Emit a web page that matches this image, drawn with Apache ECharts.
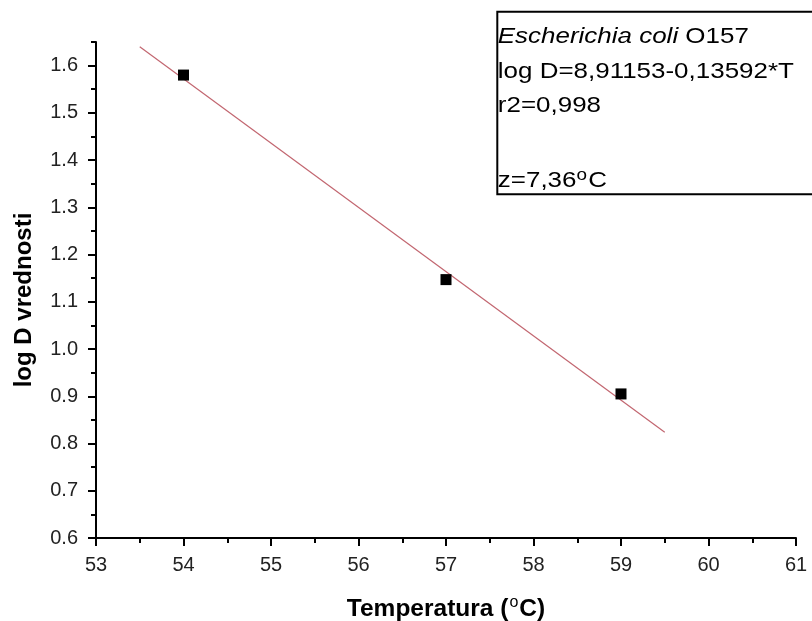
<!DOCTYPE html>
<html>
<head>
<meta charset="utf-8">
<script src="https://cdn.jsdelivr.net/npm/echarts@6/dist/echarts.min.js"></script>
<style>
  html, body { margin: 0; padding: 0; background: #fff; }
  #chart { width: 812px; height: 621px; }
</style>
</head>
<body>
<div id="chart"></div>
<script>
// Measured log D values at each treatment temperature (°C)
const temperatures = [54, 57, 59];
const logD = [1.580, 1.147, 0.905];

// End points of the regression line log D = 8,91153 - 0,13592*T
const fitTemps = [53.5, 59.5];
const fitLogD = [1.640, 0.824];

// Tick positions
const xTicks = [53, 54, 55, 56, 57, 58, 59, 60, 61];
const xMinorTicks = [53.5, 54.5, 55.5, 56.5, 57.5, 58.5, 59.5, 60.5];
const yTicks = [0.6, 0.7, 0.8, 0.9, 1.0, 1.1, 1.2, 1.3, 1.4, 1.5, 1.6];
const yMinorTicks = [0.65, 0.75, 0.85, 0.95, 1.05, 1.15, 1.25, 1.35, 1.45, 1.55, 1.65];

// Annotation box text
const boxTitleItalic = 'Escherichia coli';
const boxTitleRest = ' O157';
const boxEquation = 'log D=8,91153-0,13592*T';
const boxR2 = 'r2=0,998';
const boxZ = 'z=7,36';

const FONT = '"Liberation Sans", Arial, sans-serif';
const AXIS_MIN_X = 53, AXIS_MAX_X = 61, AXIS_MIN_Y = 0.6, AXIS_MAX_Y = 1.65;

const chart = echarts.init(document.getElementById('chart'), null, { renderer: 'canvas' });

const scatterData = temperatures.map((t, i) => [t, logD[i]]);
const fitData = fitTemps.map((t, i) => [t, fitLogD[i]]);

const tickLine = { color: '#000', width: 2 };

const option = {
  animation: false,
  backgroundColor: '#fff',
  grid: {
    left: 96, right: 16, top: 42, bottom: 83,
    containLabel: false, outerBoundsMode: 'none'
  },
  xAxis: [
    {
      type: 'value', min: AXIS_MIN_X, max: AXIS_MAX_X, interval: 1,
      position: 'bottom',
      name: '{b|Temperatura (}{s|o}{b|C)}',
      nameLocation: 'middle', nameGap: 57,
      nameTextStyle: {
        rich: {
          b: { fontFamily: FONT, fontSize: 24.5, fontWeight: 'bold', color: '#000' },
          s: { fontFamily: FONT, fontSize: 16, color: '#000', padding: [0, 1, 12, 1] }
        }
      },
      axisLine: { show: true, onZero: false, lineStyle: tickLine },
      axisTick: { show: true, length: 8, lineStyle: tickLine, customValues: xTicks },
      axisLabel: {
        customValues: xTicks, margin: 17,
        fontFamily: FONT, fontSize: 20, color: '#222',
        formatter: v => String(v)
      },
      splitLine: { show: false }
    },
    {
      type: 'value', min: AXIS_MIN_X, max: AXIS_MAX_X,
      position: 'bottom', offset: 0,
      axisLine: { show: false },
      axisTick: { show: true, length: 5, lineStyle: tickLine, customValues: xMinorTicks },
      axisLabel: { show: false },
      splitLine: { show: false }
    }
  ],
  yAxis: [
    {
      type: 'value', min: AXIS_MIN_Y, max: AXIS_MAX_Y, interval: 0.1,
      position: 'left',
      name: 'log D vrednosti',
      nameLocation: 'middle', nameRotate: 90, nameGap: 60,
      nameTextStyle: {
        fontFamily: FONT, fontSize: 24, fontWeight: 'bold', color: '#000',
        padding: [0, 20, 0, 0]
      },
      axisLine: { show: true, onZero: false, lineStyle: tickLine },
      axisTick: { show: true, length: 8, lineStyle: tickLine, customValues: yTicks },
      axisLabel: {
        customValues: yTicks, margin: 18,
        fontFamily: FONT, fontSize: 20, color: '#222',
        formatter: v => v.toFixed(1)
      },
      splitLine: { show: false }
    },
    {
      type: 'value', min: AXIS_MIN_Y, max: AXIS_MAX_Y,
      position: 'left', offset: 0,
      axisLine: { show: false },
      axisTick: { show: true, length: 5, lineStyle: tickLine, customValues: yMinorTicks },
      axisLabel: { show: false },
      splitLine: { show: false }
    }
  ],
  series: [
    {
      name: 'fit', type: 'line', data: fitData,
      xAxisIndex: 0, yAxisIndex: 0,
      showSymbol: false, symbol: 'none',
      lineStyle: { color: '#c26670', width: 1.2 },
      z: 2, silent: true
    },
    {
      name: 'log D', type: 'scatter', data: scatterData,
      xAxisIndex: 0, yAxisIndex: 0,
      symbol: 'rect', symbolSize: 11,
      itemStyle: { color: '#000', opacity: 1 },
      z: 3
    }
  ],
  graphic: [
    {
      type: 'group', x: 497.3, y: 11.7,
      children: [
        {
          type: 'rect',
          shape: { x: 0, y: 0, width: 330, height: 182.6 },
          style: { fill: '#fff', stroke: '#000', lineWidth: 2 }
        },
        {
          type: 'text', x: 0.5, y: 25.3, scaleX: 1.18,
          style: {
            text: '{i|' + boxTitleItalic + '}{n|' + boxTitleRest + '}',
            verticalAlign: 'middle',
            rich: {
              i: { fontFamily: FONT, fontSize: 22, fontStyle: 'italic', fill: '#000' },
              n: { fontFamily: FONT, fontSize: 22, fill: '#000' }
            }
          }
        },
        {
          type: 'text', x: 0.5, y: 60.3, scaleX: 1.18,
          style: { text: boxEquation, font: '22px ' + FONT, fill: '#000', verticalAlign: 'middle' }
        },
        {
          type: 'text', x: 0.5, y: 94.5, scaleX: 1.18,
          style: { text: boxR2, font: '22px ' + FONT, fill: '#000', verticalAlign: 'middle' }
        },
        {
          type: 'text', x: 0.5, y: 169.3, scaleX: 1.18,
          style: {
            text: '{n|' + boxZ + '}{s|o}{n|C}',
            verticalAlign: 'middle',
            rich: {
              n: { fontFamily: FONT, fontSize: 22, fill: '#000' },
              s: { fontFamily: FONT, fontSize: 16, fill: '#000', padding: [0, 1, 11, 0] }
            }
          }
        }
      ]
    }
  ]
};

chart.setOption(option);
</script>
</body>
</html>
